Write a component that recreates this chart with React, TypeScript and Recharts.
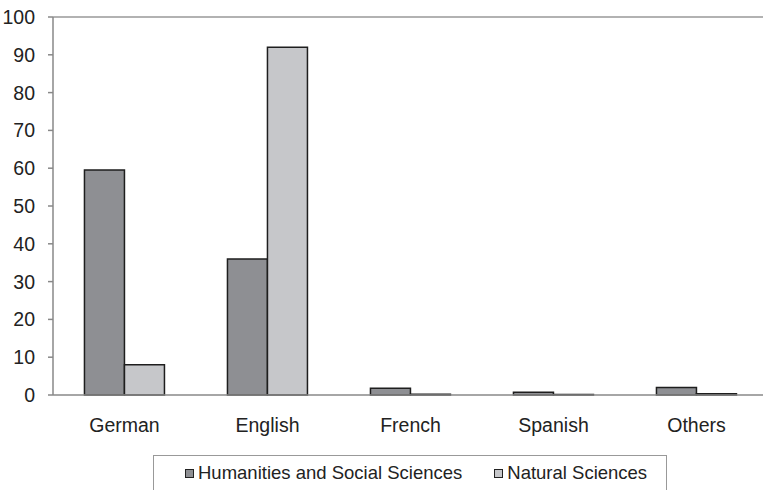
import { BarChart, Bar, XAxis, YAxis, ReferenceLine } from "recharts"

const languages = ["German", "English", "French", "Spanish", "Others"]
const humanities = [59.5, 36, 1.8, 0.7, 2]
const natural = [8, 92, 0.2, 0.1, 0.3]
const seriesNames = ["Humanities and Social Sciences", "Natural Sciences"]
const seriesColors = ["#8e8f93", "#c6c7ca"]
const yTicks = [0, 10, 20, 30, 40, 50, 60, 70, 80, 90, 100]
const boundaryTicks = [0, 1, 2, 3, 4, 5]

const data = languages.map((lang, i) => ({
  lang,
  idx: i + 0.5,
  hss: humanities[i],
  ns: natural[i]
}))

const font = "'Liberation Sans', Arial, sans-serif"

function LegendBox() {
  return (
    <div
      style={{
        position: "absolute",
        left: 153,
        top: 455,
        width: 514,
        height: 60,
        border: "1px solid #999",
        boxSizing: "border-box",
        display: "flex",
        paddingLeft: 31,
        paddingTop: 5,
        fontFamily: font,
        fontSize: 18.5,
        color: "#222",
        whiteSpace: "nowrap"
      }}
    >
      {seriesNames.map((name, i) => (
        <div key={name} style={{ display: "flex", alignItems: "center", marginRight: 32, height: 24 }}>
          <span
            style={{
              display: "inline-block",
              width: 7,
              height: 7,
              background: seriesColors[i],
              border: "1.5px solid #222",
              marginRight: 4
            }}
          />
          <span>{name}</span>
        </div>
      ))}
    </div>
  )
}

export default function App() {
  return (
    <div style={{ position: "absolute", left: 0, top: 0, width: 763, height: 490, overflow: "hidden", background: "#fff" }}>
      <BarChart
        width={800}
        height={490}
        data={data}
        margin={{ top: 17, right: 32, bottom: 54, left: 0 }}
        barCategoryGap="22%"
        barGap={0}
      >
        <XAxis
          xAxisId="b"
          type="number"
          dataKey="idx"
          domain={[0, 5]}
          ticks={boundaryTicks}
          tick={false}
          height={1}
          axisLine={{ stroke: "#888", strokeWidth: 1.5 }}
          tickLine={{ stroke: "#888", strokeWidth: 1.5 }}
          tickSize={6}
        />
        <XAxis
          xAxisId="cat"
          dataKey="lang"
          height={40}
          axisLine={false}
          tickLine={false}
          tickMargin={16}
          tick={{ fill: "#222", fontSize: 19.5, fontFamily: font }}
        />
        <YAxis
          width={53}
          domain={[0, 100]}
          ticks={yTicks}
          interval={0}
          axisLine={{ stroke: "#888", strokeWidth: 1.5 }}
          tickLine={{ stroke: "#888", strokeWidth: 1.5 }}
          tickSize={5}
          tickMargin={13}
          tick={{ fill: "#222", fontSize: 19.5, fontFamily: font }}
        />
        <ReferenceLine xAxisId="cat" y={100} stroke="#999" strokeWidth={1.5} />
        <Bar
          xAxisId="cat"
          dataKey="hss"
          name={seriesNames[0]}
          fill={seriesColors[0]}
          stroke="#1e1e1e"
          strokeWidth={1.5}
          isAnimationActive={false}
        />
        <Bar
          xAxisId="cat"
          dataKey="ns"
          name={seriesNames[1]}
          fill={seriesColors[1]}
          stroke="#1e1e1e"
          strokeWidth={1.5}
          isAnimationActive={false}
        />
      </BarChart>
      <LegendBox />
    </div>
  )
}
